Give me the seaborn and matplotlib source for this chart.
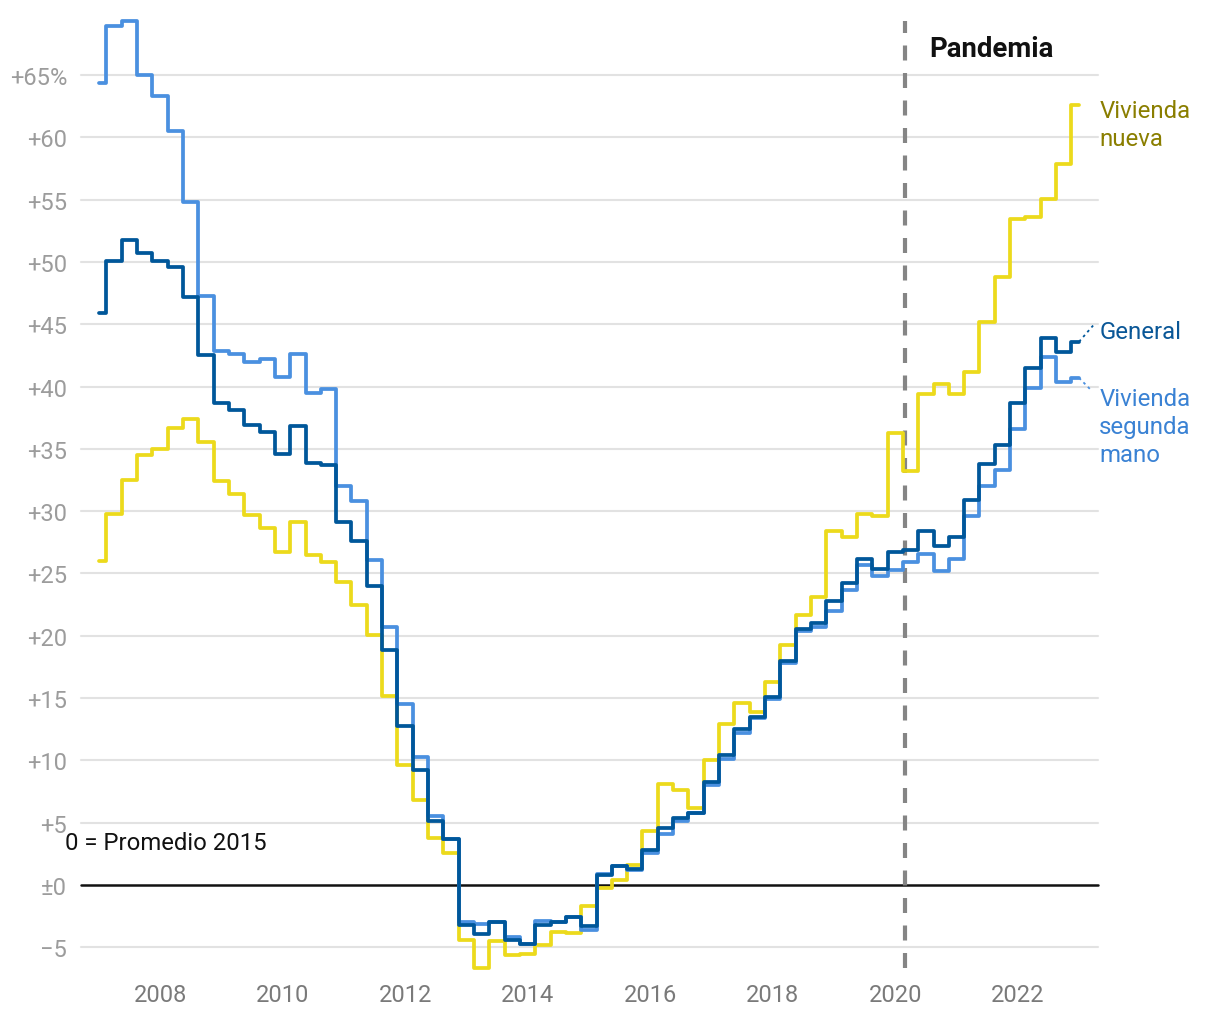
import numpy as np
import pandas as pd
import matplotlib
matplotlib.use("Agg")
import matplotlib.pyplot as plt
import seaborn as sns

# ─────────────────────────────────────────
# DATA — quarterly index, 0 = average 2015 (values in %)
# ─────────────────────────────────────────
years = list(range(2007, 2024))
quarters = [(y, q) for y in years for q in (1, 2, 3, 4)][:65]   # 2007T1 .. 2023T1

general = [45.9, 50.1, 51.75, 50.7, 50.1, 49.6, 47.2, 42.5, 38.7, 38.1,
           36.9, 36.35, 34.6, 36.8, 33.9, 33.7, 29.1, 27.6, 24.0, 18.9,
           12.8, 9.2, 5.1, 3.7, -3.2, -3.9, -3.0, -4.4, -4.75, -3.2,
           -3.0, -2.6, -3.3, 0.8, 1.5, 1.3, 2.8, 4.6, 5.4, 5.8,
           8.3, 10.4, 12.5, 13.5, 15.1, 18.0, 20.55, 21.0, 22.8, 24.2,
           26.2, 25.4, 26.7, 26.9, 28.4, 27.2, 27.9, 30.9, 33.8, 35.3,
           38.7, 41.5, 43.9, 42.8, 43.6]

segunda_mano = [64.4, 68.9, 69.3, 65.0, 63.3, 60.5, 54.8, 47.3, 42.85, 42.6,
                42.0, 42.2, 40.8, 42.6, 39.5, 39.8, 32.05, 30.8, 26.1, 20.7,
                14.55, 10.3, 5.5, 3.7, -3.0, -3.1, -3.0, -4.2, -4.7, -2.9,
                -3.0, -2.6, -3.6, 0.9, 1.55, 1.2, 2.6, 4.1, 5.1, 5.8,
                8.0, 10.1, 12.2, 13.4, 14.9, 17.8, 20.4, 20.7, 22.0, 23.7,
                25.7, 24.8, 25.3, 25.9, 26.6, 25.2, 26.2, 29.6, 32.0, 33.3,
                36.6, 39.9, 42.4, 40.4, 40.7]

nueva = [26.0, 29.75, 32.5, 34.5, 35.0, 36.65, 37.4, 35.55, 32.4, 31.4,
         29.7, 28.65, 26.7, 29.15, 26.45, 25.9, 24.3, 22.5, 20.1, 15.2,
         9.6, 6.8, 3.8, 2.6, -4.4, -6.7, -4.5, -5.6, -5.5, -4.8,
         -3.8, -3.85, -1.7, -0.2, 0.4, 1.6, 4.3, 8.1, 7.65, 6.15,
         10.05, 12.9, 14.6, 13.9, 16.3, 19.3, 21.7, 23.1, 28.4, 27.9,
         29.8, 29.6, 36.25, 33.2, 39.4, 40.2, 39.4, 41.2, 45.2, 48.8,
         53.45, 53.6, 55.05, 57.9, 62.6]

series_names = ['Vivienda nueva', 'Vivienda segunda mano', 'General']
colors = {'Vivienda nueva': '#ecda1c',
          'Vivienda segunda mano': '#4a90e0',
          'General': '#00579a'}

year_ticks = [2008, 2010, 2012, 2014, 2016, 2018, 2020, 2022]
y_ticks = [-5, 0, 5, 10, 15, 20, 25, 30, 35, 40, 45, 50, 55, 60, 65]
y_labels = ['−5', '±0', '+5', '+10', '+15', '+20', '+25', '+30', '+35',
            '+40', '+45', '+50', '+55', '+60', '+65%']
pandemia_x = 2020.16

# ─────────────────────────────────────────
# LONG TABLE FOR SEABORN
# ─────────────────────────────────────────
t = [y + (q - 1) / 4 for y, q in quarters]
df = pd.concat([
    pd.DataFrame({'t': t, 'valor': nueva, 'serie': 'Vivienda nueva'}),
    pd.DataFrame({'t': t, 'valor': segunda_mano, 'serie': 'Vivienda segunda mano'}),
    pd.DataFrame({'t': t, 'valor': general, 'serie': 'General'}),
])

# ─────────────────────────────────────────
# PLOT
# ─────────────────────────────────────────
sns.set_theme(style='white')
plt.rcParams['font.family'] = ['Roboto', 'DejaVu Sans']

fig = plt.figure(figsize=(12.2, 10.2), dpi=100)
ax = fig.add_axes([81 / 1220, 1 - 969 / 1020, (1098 - 81) / 1220, (969 - 22) / 1020])

for y in y_ticks:
    if y != 0:
        ax.axhline(y, color='#e2e2e2', lw=1.5, zorder=0)
ax.axhline(0, color='#111111', lw=1.8, zorder=1)

sns.lineplot(data=df, x='t', y='valor', hue='serie', hue_order=series_names,
             palette=colors, drawstyle='steps-mid', linewidth=2.7,
             legend=False, ax=ax, zorder=3)
for line in ax.get_lines():
    line.set_clip_on(False)

ax.axvline(pandemia_x, color='#858585', lw=3, dashes=(3.6, 3.0), zorder=2)

ax.set_xlim(2006.71, 2023.31)
ax.set_ylim(-6.66, 69.34)
ax.set_xticks(year_ticks)
ax.set_xticklabels([str(y) for y in year_ticks])
ax.set_yticks(y_ticks)
ax.set_yticklabels(y_labels)
ax.tick_params(axis='x', length=0, pad=11, labelsize=17, labelcolor='#7a7a7a')
ax.tick_params(axis='y', length=0, pad=10, labelsize=17, labelcolor='#9c9c9c')
ax.set_xlabel('')
ax.set_ylabel('')
sns.despine(ax=ax, left=True, bottom=True)

# ─────────────────────────────────────────
# ANNOTATIONS
# ─────────────────────────────────────────
ax.text(2020.55, 67.1, 'Pandemia', fontsize=19.8, fontweight='bold',
        color='#111111', va='center', ha='left')
ax.text(2006.45, 3.45, '0 = Promedio 2015', fontsize=17.2, color='#111111',
        va='center', ha='left', clip_on=False)

ax.plot([2023.0, 2023.23], [general[-1], 44.9], ls=(0, (1.5, 2)),
        color=colors['General'], lw=1.3, clip_on=False)
ax.plot([2023.0, 2023.2], [segunda_mano[-1], 39.7], ls=(0, (1.5, 2)),
        color=colors['Vivienda segunda mano'], lw=1.3, clip_on=False)

label_x = 2023.33
for txt, yb in [('Vivienda', 61.61), ('nueva', 59.36)]:
    ax.text(label_x, yb, txt, fontsize=17.3, color='#8a7e00',
            va='baseline', ha='left', clip_on=False)
ax.text(label_x, 43.87, 'General', fontsize=17.3, color='#0a5797',
        va='baseline', ha='left', clip_on=False)
for txt, yb in [('Vivienda', 38.52), ('segunda', 36.3), ('mano', 34.05)]:
    ax.text(label_x, yb, txt, fontsize=17.3, color='#3a82d4',
            va='baseline', ha='left', clip_on=False)

plt.savefig('out.png', dpi=100)
